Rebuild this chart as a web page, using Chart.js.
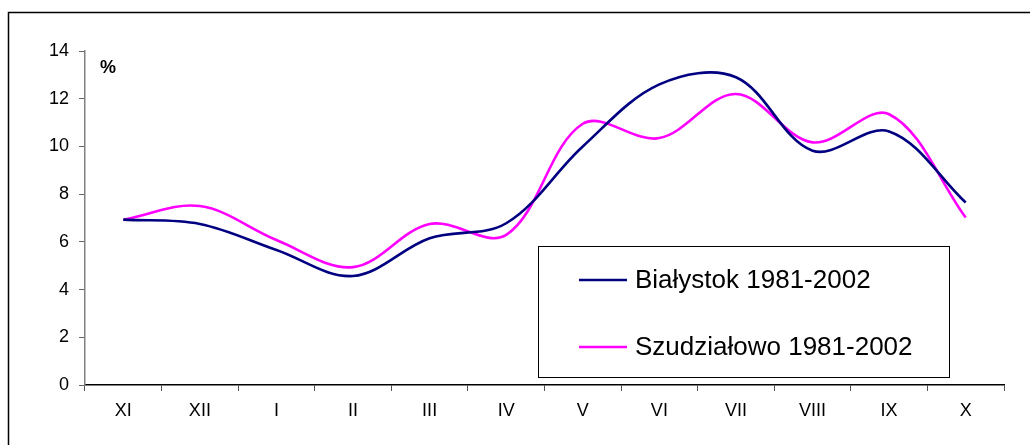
<!DOCTYPE html>
<html lang="pl">
<head>
<meta charset="UTF-8" />
<title>Białystok / Szudziałowo 1981-2002</title>
<style>
  html, body {
    margin: 0;
    padding: 0;
    background: #ffffff;
  }
  #wrap {
    width: 1030px;
    height: 445px;
    position: relative;
  }
</style>
</head>
<body>
<div id="wrap">
  <canvas id="chart" width="1030" height="445"></canvas>
</div>
<script src="https://cdn.jsdelivr.net/npm/chart.js@4.4.0/dist/chart.umd.min.js"></script>
<script>
  // dane
  const miesiace = ['XI', 'XII', 'I', 'II', 'III', 'IV', 'V', 'VI', 'VII', 'VIII', 'IX', 'X'];
  const bialystok = [6.93, 6.75, 5.66, 4.57, 6.15, 6.78, 10.0, 12.6, 12.9, 9.82, 10.63, 7.65];
  const szudzialowo = [6.93, 7.5, 6.08, 4.94, 6.75, 6.29, 10.95, 10.35, 12.2, 10.17, 11.35, 7.02];
  const yTicks = [0, 2, 4, 6, 8, 10, 12, 14];

  const FONT = "'Liberation Sans', Arial, sans-serif";

  // ramka, jednostka i legenda w ramce
  const extras = {
    id: 'extras',
    afterDraw(chart) {
      const ctx = chart.ctx;
      const area = chart.chartArea;
      ctx.save();
      // ramka wykresu
      ctx.strokeStyle = '#000';
      ctx.lineWidth = 1.5;
      ctx.strokeRect(8.5, 12.5, 1100, 500);

      // jednostka
      ctx.fillStyle = '#000';
      ctx.font = 'bold 18px ' + FONT;
      ctx.textBaseline = 'top';
      ctx.textAlign = 'left';
      ctx.fillText('%', area.left + 15, area.top + 8);

      // legenda
      const lx = 538, ly = 246, lw = 411, lh = 131;
      ctx.fillStyle = '#fff';
      ctx.fillRect(lx, ly, lw, lh);
      ctx.lineWidth = 1;
      ctx.strokeStyle = '#000';
      ctx.strokeRect(lx + 0.5, ly + 0.5, lw, lh);
      const rows = [280, 347];
      chart.data.datasets.forEach((ds, i) => {
        const y = rows[i];
        ctx.strokeStyle = ds.borderColor;
        ctx.lineWidth = 2.5;
        ctx.beginPath();
        ctx.moveTo(579, y);
        ctx.lineTo(627, y);
        ctx.stroke();
        ctx.fillStyle = '#000';
        ctx.font = '26px ' + FONT;
        ctx.textBaseline = 'middle';
        ctx.fillText(ds.label, 635, y + 1);
      });
      ctx.restore();
    }
  };

  const ctx = document.getElementById('chart').getContext('2d');

  new Chart(ctx, {
    type: 'line',
    data: {
      labels: miesiace,
      datasets: [
        {
          label: 'Białystok 1981-2002',
          data: bialystok,
          borderColor: '#000080',
          borderWidth: 2.6,
          pointRadius: 0,
          tension: 0.35,
          fill: false
        },
        {
          label: 'Szudziałowo 1981-2002',
          data: szudzialowo,
          borderColor: '#FF00FF',
          borderWidth: 2.6,
          pointRadius: 0,
          tension: 0.35,
          fill: false
        }
      ]
    },
    options: {
      responsive: false,
      animation: false,
      layout: {
        padding: { left: 0, top: 51, right: 26, bottom: 0 }
      },
      scales: {
        x: {
          type: 'category',
          offset: true,
          grid: {
            offset: true,
            drawOnChartArea: false,
            drawTicks: true,
            tickLength: 6,
            color: '#555'
          },
          border: { display: true, color: '#000', width: 1.5 },
          ticks: {
            color: '#000',
            padding: 9,
            maxRotation: 0,
            font: { family: FONT, size: 18 }
          },
          afterFit(scale) { scale.height = 60; }
        },
        y: {
          min: 0,
          max: 14,
          afterBuildTicks(scale) {
            scale.ticks = yTicks.map(v => ({ value: v }));
          },
          grid: {
            drawOnChartArea: false,
            drawTicks: true,
            tickLength: 6,
            color: '#666'
          },
          border: { display: true, color: '#808080', width: 1.5 },
          ticks: {
            color: '#000',
            padding: 10,
            font: { family: FONT, size: 18 }
          },
          afterFit(scale) { scale.width = 85; }
        }
      },
      plugins: {
        legend: { display: false },
        tooltip: { enabled: false }
      }
    },
    plugins: [extras]
  });
</script>
</body>
</html>
